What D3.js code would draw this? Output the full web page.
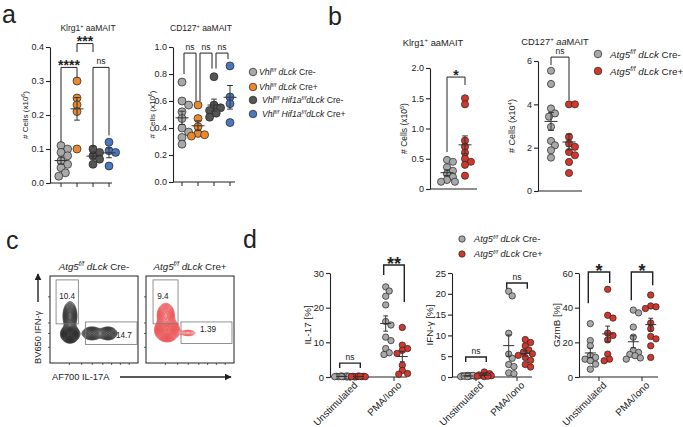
<!DOCTYPE html>
<html>
<head>
<meta charset="utf-8">
<script src="https://cdn.jsdelivr.net/npm/d3@7"></script>
<style>
  body { margin: 0; background: #fff; }
  text { font-family: "Liberation Sans", Arial, sans-serif; fill: #222; white-space: pre; }
</style>
</head>
<body>
<svg id="fig" width="683" height="427"></svg>
<script>
// ---------- data ----------
// panel a: four genotypes
const groupsA = ["Vhl Cre-", "Vhl Cre+", "Vhl Hif1a Cre-", "Vhl Hif1a Cre+"];
const colorsA = ["#a8a8a8", "#e8892f", "#555555", "#4a78bc"];
const klrg1A = [
  [0.11, 0.10, 0.09, 0.08, 0.065, 0.055, 0.045, 0.03, 0.02],
  [0.30, 0.25, 0.23, 0.21, 0.10],
  [0.10, 0.09, 0.08, 0.07, 0.055],
  [0.12, 0.095, 0.09, 0.05]
];
const cd127A = [
  [0.74, 0.60, 0.57, 0.52, 0.47, 0.40, 0.37, 0.33, 0.28],
  [0.57, 0.47, 0.41, 0.36, 0.34, 0.35],
  [0.78, 0.57, 0.55, 0.53, 0.51, 0.48],
  [0.86, 0.63, 0.58, 0.44]
];
// brackets: [group i, group j, top, leg i, leg j, label]
const klrg1ABrackets = [[0, 1, 0.34, 0.12, 0.31, "****"], [1, 2, 0.41, 0.385, 0.385, "***"], [2, 3, 0.34, 0.105, 0.14, "ns"]];
const cd127ABrackets = [[0, 1, 0.955, 0.80, 0.60, "ns"], [1, 2, 0.955, 0.60, 0.84, "ns"], [2, 3, 0.955, 0.84, 0.91, "ns"]];

// panel b: Atg5 Cre- / Cre+
const groupsB = ["Atg5 Cre-", "Atg5 Cre+"];
const colorsB = ["#a8a8a8", "#d0382e"];
const klrg1B = [
  [0.48, 0.45, 0.36, 0.30, 0.25, 0.20, 0.15, 0.12, 0.12],
  [1.5, 1.4, 0.8, 0.7, 0.6, 0.5, 0.45, 0.4, 0.22]
];
const cd127B = [
  [5.55, 4.94, 3.81, 3.58, 3.43, 2.96, 2.31, 2.11, 1.88, 1.54],
  [4.0, 4.0, 2.5, 2.19, 2.04, 1.8, 1.65, 1.34, 0.83]
];
const klrg1BBrackets = [[0, 1, 1.85, 0.61, 1.72, "*"]];
const cd127BBrackets = [[0, 1, 6.18, 5.81, 4.2, "ns"]];

// panel c: flow populations [x, y, sdx, sdy, weight] on a 0-100 channel scale
const flowTitles = ["Cre-", "Cre+"];
const flowColors = ["#111111", "#e5262b"];
const flowPops = [
  [[22.7, 33.3, 4.1, 4.0, 1], [22.7, 54, 3.6, 7.5, 0.35], [47.7, 34, 5.2, 3.5, 0.3], [65.9, 34, 4.8, 3.5, 0.3]],
  [[23.9, 37.9, 5.4, 5.2, 1], [22.5, 55, 4.3, 6, 0.4], [47.7, 34.5, 5.7, 2.3, 0.08]]
];
// gates [x0, y0, x1, y1] and their labels [text, x, y] in channel units
const flowGates = [
  [[6.9, 45, 32.2, 95.5], [40.2, 21.3, 98.9, 47.2]],
  [[8, 45, 36.4, 95.5], [39.8, 22.5, 97.7, 47.2]]
];
const flowGateLabels = [
  [["10.4", 19.5, 74], ["14.7", 84, 29.2]],
  [["9.4", 19.3, 74], ["1.39", 70.5, 36]]
];
const flowTicksY = [18, 34, 46, 76];
const flowTicksX = [22, 36, 48, 60, 70, 80, 90];

// panel d: conditions x genotype, values in %
const conditionsD = ["Unstimulated", "PMA/Iono"];
const il17Neg = [[0.3, 0.2, 0.1, 0.2, 0.1, 0.0, 0.1, 0.2, 0.3, 0.1, 0.2], [26, 24.8, 23.3, 20.8, 16, 15, 11.5, 10.5, 8.2, 7, 6.5]];
const il17Pos = [[0.2, 0.1, 0.1, 0.0, 0.2, 0.1, 0.3, 0.1, 0.2], [14.3, 9.2, 8.2, 7.7, 6.8, 3.4, 1.9, 1.0, 0.8]];
const ifngNeg = [[0.4, 0.3, 0.3, 0.2, 0.2, 0.1, 0.3, 0.2, 0.4, 0.1], [20.6, 19.5, 10.5, 5.5, 4.5, 3, 2.5, 1, 0.8]];
const ifngPos = [[1.2, 0.8, 0.5, 0.3, 0.2, 0.4, 0.1, 0.3, 0.2], [9, 8.3, 7.5, 6.5, 6, 5.6, 5.2, 4.7, 4, 3, 2.4]];
const gzmbNeg = [[30.8, 21, 18, 12.3, 11.3, 10.3, 9.4, 7.4, 4.5], [38.6, 37, 28.8, 23, 15.2, 14.2, 13, 12.3, 11, 10.3]];
const gzmbPos = [[50.6, 35.6, 34, 25.3, 24, 21.4, 13.2, 10.3, 9.4], [47.3, 41, 40.5, 39.5, 31.2, 27.9, 23.4, 22, 18, 11.3]];
// brackets per condition: [top, leg Cre-, leg Cre+, label]
const il17Brackets = [[4.0, 2.6, 2.6, "ns"], [32.3, 29.4, 21.6, "**"]];
const ifngBrackets = [[4.8, 3.6, 3.6, "ns"], [22.6, 21.2, 21.2, "ns"]];
const gzmbBrackets = [[60.6, 42.5, 54.2, "*"], [60.6, 44.3, 53, "*"]];

// ---------- helpers ----------
const svg = d3.select("#fig");
const FONT = '"Liberation Sans", Arial, sans-serif';
const INK = "#222";

// text with italic / superscript runs: parts = [[str, italic, sup]]
function rich(t, parts, fs) {
  let shift = 0;
  parts.forEach(([s, it, sup]) => {
    const target = sup ? -fs * 0.38 : 0;
    t.append("tspan")
      .attr("dy", target - shift)
      .attr("font-size", sup ? fs * 0.65 : fs)
      .attr("font-style", it ? "italic" : "normal")
      .text(s);
    shift = target;
  });
  return t;
}

// simple deterministic beeswarm offsets
function swarm(values, y, r, maxOff) {
  const order = values.map((v, i) => i).sort((a, b) => values[b] - values[a]);
  const placed = [];
  const off = new Array(values.length).fill(0);
  const minD = r * 1.6;
  order.forEach(i => {
    const py = y(values[i]);
    let best = 0, bestScore = -1;
    for (let k = 0; k <= 14; k++) {
      const c = (k % 2 ? 1 : -1) * Math.ceil(k / 2) * r * 0.55;
      if (Math.abs(c) > maxOff) continue;
      const d = placed.length ? d3.min(placed, p => Math.hypot(p[0] - c, p[1] - py)) : Infinity;
      if (d >= minD) { best = c; break; }
      if (d > bestScore) { bestScore = d; best = c; }
    }
    off[i] = best;
    placed.push([best, py]);
  });
  return off;
}

function yAxis(g, y, x0, ticks, fmt, fs) {
  const ax = g.append("g")
    .attr("transform", `translate(${x0},0)`)
    .call(d3.axisLeft(y).tickValues(ticks).tickFormat(fmt).tickSize(4).tickSizeOuter(0).tickPadding(2));
  ax.attr("font-family", FONT).attr("font-size", fs);
  ax.selectAll("path,line").attr("stroke", INK).attr("stroke-width", 1.1);
  ax.selectAll("text").attr("fill", INK);
}

function xLine(g, x0, x1, y0, ticks) {
  g.append("line").attr("x1", x0).attr("x2", x1).attr("y1", y0).attr("y2", y0)
    .attr("stroke", INK).attr("stroke-width", 1.1);
  g.selectAll(null).data(ticks).join("line")
    .attr("x1", d => d).attr("x2", d => d).attr("y1", y0).attr("y2", y0 + 4)
    .attr("stroke", INK).attr("stroke-width", 1);
}

function drawGroup(g, vals, cx, y, color, r, meanW) {
  const off = swarm(vals, y, r, r * 2.3);
  g.append("g").selectAll("circle").data(vals).join("circle")
    .attr("cx", (d, i) => cx + off[i]).attr("cy", d => y(d)).attr("r", r)
    .attr("fill", color).attr("stroke", INK).attr("stroke-width", 0.7);
  const m = d3.mean(vals), se = d3.deviation(vals) / Math.sqrt(vals.length);
  const e = g.append("g").attr("stroke", "#333").attr("stroke-width", 1);
  e.append("line").attr("x1", cx - meanW / 2).attr("x2", cx + meanW / 2).attr("y1", y(m)).attr("y2", y(m));
  e.append("line").attr("x1", cx).attr("x2", cx).attr("y1", y(m - se)).attr("y2", y(m + se));
  [m - se, m + se].forEach(v => e.append("line")
    .attr("x1", cx - meanW * 0.22).attr("x2", cx + meanW * 0.22).attr("y1", y(v)).attr("y2", y(v)));
}

function bracket(g, xa, xb, y, top, la, lb, label, starSize, lw) {
  g.append("path")
    .attr("d", `M${xa},${y(la)}V${y(top)}H${xb}V${y(lb)}`)
    .attr("fill", "none").attr("stroke", INK).attr("stroke-width", lw);
  const star = label !== "ns";
  g.append("text")
    .attr("x", (xa + xb) / 2)
    .attr("y", star ? y(top) - 3 + 0.42 * starSize : y(top) - 3)
    .attr("text-anchor", "middle")
    .attr("font-size", star ? starSize : 8.5)
    .attr("font-weight", star ? "bold" : "normal")
    .text(label);
}

function rotLabel(g, x, y, parts, fs) {
  const t = g.append("text").attr("transform", `translate(${x},${y}) rotate(-90)`)
    .attr("text-anchor", "middle").attr("font-size", fs);
  rich(t, parts, fs);
}

function panelLetter(s, x, y) {
  svg.append("text").attr("x", x).attr("y", y).attr("font-size", 25).text(s);
}

// ---------- panel a / b dot plots ----------
function dotPanel(o) {
  const g = svg.append("g");
  const y = d3.scaleLinear().domain(o.domain).range([o.yb, o.yt]);
  const x = d3.scalePoint().domain(d3.range(o.data.length)).range(o.xr);
  yAxis(g, y, o.x0, o.ticks, o.fmt, o.tickFs);
  xLine(g, o.x0, o.x1, o.yb, o.xticks ? x.domain().map(x) : []);
  o.data.forEach((vals, i) => drawGroup(g, vals, x(i), y, o.colors[i], o.r, o.meanW));
  o.brackets.forEach(([i, j, top, la, lb, lab]) =>
    bracket(g, x(i) + o.inset, x(j) - o.inset, y, top, la, lb, lab, o.star, 1));
  const tt = g.append("text").attr("x", o.titleX).attr("y", o.titleY).attr("text-anchor", "middle").attr("font-size", o.titleFs);
  rich(tt, o.title, o.titleFs);
  rotLabel(g, o.labelX, (o.yt + o.yb) / 2, o.ylabel, o.labelFs);
}

const fmt1 = d3.format(".1f");
dotPanel({
  data: klrg1A, colors: colorsA, domain: [0, 0.4], ticks: d3.range(0, 0.41, 0.1), fmt: fmt1, tickFs: 9,
  x0: 50, x1: 112, xr: [61, 109], yt: 47, yb: 183, r: 4, meanW: 13, xticks: true, inset: 0, star: 14,
  brackets: klrg1ABrackets, title: [["Klrg1"], ["+", 0, 1], [" aaMAIT"]], titleX: 88, titleY: 31, titleFs: 8.5,
  labelX: 28, labelFs: 8, ylabel: [["# Cells (x10"], ["6", 0, 1], [")"]]
});
dotPanel({
  data: cd127A, colors: colorsA, domain: [0, 1], ticks: d3.range(0, 1.01, 0.2), fmt: fmt1, tickFs: 9,
  x0: 173, x1: 235, xr: [182, 230], yt: 47, yb: 182, r: 4, meanW: 13, xticks: true, inset: 2, star: 14,
  brackets: cd127ABrackets, title: [["CD127"], ["+", 0, 1], [" aaMAIT"]], titleX: 201, titleY: 31, titleFs: 8.5,
  labelX: 155, labelFs: 8, ylabel: [["# Cells (x10"], ["6", 0, 1], [")"]]
});
dotPanel({
  data: klrg1B, colors: colorsB, domain: [0, 2], ticks: [0, 0.5, 1, 1.5, 2], fmt: d => d === 0 ? "0" : fmt1(d), tickFs: 9,
  x0: 430, x1: 477, xr: [447, 465], yt: 68, yb: 189, r: 3.6, meanW: 13, xticks: false, inset: 0, star: 14,
  brackets: klrg1BBrackets, title: [["Klrg1"], ["+", 0, 1], [" aaMAIT"]], titleX: 433, titleY: 46, titleFs: 9.3,
  labelX: 407, labelFs: 8.5, ylabel: [["# Cells (x10"], ["5", 0, 1], [")"]]
});
dotPanel({
  data: cd127B, colors: colorsB, domain: [0, 6], ticks: [0, 2, 4, 6], fmt: d3.format("d"), tickFs: 9,
  x0: 538, x1: 582, xr: [551, 569], yt: 61, yb: 191, r: 3.6, meanW: 13, xticks: false, inset: 0, star: 14,
  brackets: cd127BBrackets, title: [["CD127"], ["+", 0, 1], [" "], ["aa", 1], ["MAIT"]], titleX: 555, titleY: 45, titleFs: 9.3,
  labelX: 515, labelFs: 9, ylabel: [["# Cells (x10"], ["4", 0, 1], [")"]]
});

// legends a, b and d
function legend(items, colors, cx, tx, ys, r, fs) {
  const g = svg.append("g");
  items.forEach((parts, i) => {
    g.append("circle").attr("cx", cx).attr("cy", ys[i]).attr("r", r)
      .attr("fill", colors[i]).attr("stroke", INK).attr("stroke-width", 0.7);
    const t = g.append("text").attr("x", tx[i]).attr("y", ys[i] + fs * 0.36).attr("font-size", fs);
    rich(t, parts, fs);
  });
}
const vhl = [["Vhl", 1], ["f/f", 1, 1]];
const legendA = [
  [...vhl, [" dLck", 1], [" Cre-"]],
  [...vhl, [" dLck", 1], [" Cre+"]],
  [...vhl, [" Hif1a", 1], ["f/f", 1, 1], ["dLck", 1], [" Cre-"]],
  [...vhl, [" Hif1a", 1], ["f/f", 1, 1], ["dLck", 1], [" Cre+"]]
];
const atg = (s) => [["Atg5", 1], ["f/f", 1, 1], [" dLck", 1], [" " + s]];
legend(legendA, colorsA, 253, [259, 259, 262, 262], [72, 87, 100, 114], 3.8, 8.6);
legend([atg("Cre-"), atg("Cre+")], colorsB, 598, [610, 610], [54, 71], 3.8, 9.8);

// ---------- panel c: flow contour plots ----------
const boxes = [[50, 138], [146, 234]];
const boxY = [276, 363];
flowPops.forEach((pops, k) => {
  const [bx0, bx1] = boxes[k];
  const [by0, by1] = boxY;
  const xs = d3.scaleLinear().domain([0, 100]).range([bx0, bx1]);
  const ys = d3.scaleLinear().domain([0, 100]).range([by1, by0]);
  const g = svg.append("g");
  const nx = Math.round(bx1 - bx0), ny = Math.round(by1 - by0);
  const grid = new Float64Array(nx * ny);
  for (let j = 0; j < ny; j++) {
    for (let i = 0; i < nx; i++) {
      const u = xs.invert(bx0 + i + 0.5), v = ys.invert(by0 + j + 0.5);
      grid[j * nx + i] = d3.sum(pops, ([cx, cy, sx, sy, w]) =>
        w * Math.exp(-0.5 * ((u - cx) / sx) ** 2 - 0.5 * ((v - cy) / sy) ** 2));
    }
  }
  const top = d3.max(grid);
  const th = d3.range(18).map(i => top * 0.03 * Math.pow(0.97 / 0.03, i / 17));
  const cs = d3.contours().size([nx, ny]).thresholds(th)(grid);
  const path = d3.geoPath(d3.geoIdentity().translate([bx0, by0]));
  g.append("g").selectAll("path").data(cs).join("path")
    .attr("d", path)
    .attr("fill", flowColors[k]).attr("fill-opacity", k ? 0.05 : 0.075)
    .attr("stroke", flowColors[k]).attr("stroke-width", 0.5).attr("stroke-opacity", 0.85);

  // gates
  flowGates[k].forEach(([x0, y0, x1, y1]) => g.append("rect")
    .attr("x", xs(x0)).attr("y", ys(y1)).attr("width", xs(x1) - xs(x0)).attr("height", ys(y0) - ys(y1))
    .attr("fill", "none").attr("stroke", "#777").attr("stroke-width", 0.8));
  flowGateLabels[k].forEach(([s, x, y]) => g.append("text")
    .attr("x", xs(x)).attr("y", ys(y)).attr("text-anchor", "middle").attr("font-size", 8.2).text(s));

  // frame and ticks
  g.append("rect").attr("x", bx0).attr("y", by0).attr("width", bx1 - bx0).attr("height", by1 - by0)
    .attr("fill", "none").attr("stroke", INK).attr("stroke-width", 1);
  g.selectAll(null).data(flowTicksY).join("line")
    .attr("x1", bx0 - 2).attr("x2", bx0).attr("y1", d => ys(d)).attr("y2", d => ys(d))
    .attr("stroke", INK).attr("stroke-width", 0.7);
  g.selectAll(null).data(flowTicksX).join("line")
    .attr("x1", d => xs(d)).attr("x2", d => xs(d)).attr("y1", by1).attr("y2", by1 + 2)
    .attr("stroke", INK).attr("stroke-width", 0.7);

  const t = g.append("text").attr("x", (bx0 + bx1) / 2).attr("y", 270).attr("text-anchor", "middle").attr("font-size", 9.8);
  rich(t, atg(flowTitles[k]), 9.8);
});

// flow axis labels with arrows
svg.append("defs").append("marker").attr("id", "arr").attr("viewBox", "0 0 10 10")
  .attr("refX", 9).attr("refY", 5).attr("markerWidth", 5).attr("markerHeight", 5).attr("orient", "auto")
  .append("path").attr("d", "M0,0L10,5L0,10z").attr("fill", INK);
svg.append("line").attr("x1", 38).attr("x2", 38).attr("y1", 302).attr("y2", 274)
  .attr("stroke", INK).attr("stroke-width", 1.4).attr("marker-end", "url(#arr)");
svg.append("text").attr("transform", "translate(41,364) rotate(-90)").attr("font-size", 9.3).text("BV650 IFN-\u03b3");
svg.append("text").attr("x", 52).attr("y", 380).attr("font-size", 9.3).text("AF700 IL-17A");
svg.append("line").attr("x1", 120).attr("x2", 231).attr("y1", 377).attr("y2", 377)
  .attr("stroke", INK).attr("stroke-width", 1.4).attr("marker-end", "url(#arr)");

// ---------- panel d ----------
function condPanel(o) {
  const g = svg.append("g");
  const y = d3.scaleLinear().domain(o.domain).range([377, 273]);
  const x = d3.scalePoint().domain(conditionsD).range(o.xr);
  yAxis(g, y, o.x0, o.ticks, d3.format("d"), 9.5);
  xLine(g, o.x0, o.x1, 377, conditionsD.map(x));
  conditionsD.forEach((c, i) => {
    drawGroup(g, o.neg[i], x(c) - o.dx, y, colorsB[0], 3.2, 11);
    drawGroup(g, o.pos[i], x(c) + o.dx, y, colorsB[1], 3.2, 11);
    const [top, la, lb, lab] = o.brackets[i];
    bracket(g, x(c) - o.dx - 2, x(c) + o.dx + 2, y, top, la, lb, lab, 18, 1.4);
    g.append("text").attr("transform", `translate(${x(c) + 8},${386}) rotate(-45)`)
      .attr("text-anchor", "end").attr("font-size", 9.8).text(c);
  });
  rotLabel(g, o.labelX, 325, o.ylabel, 9.8);
}
condPanel({ neg: il17Neg, pos: il17Pos, brackets: il17Brackets, domain: [0, 30], ticks: [0, 10, 20, 30],
  x0: 330, x1: 407, xr: [350, 394], dx: 8.3, labelX: 311, ylabel: [["IL-17 [%]"]] });
condPanel({ neg: ifngNeg, pos: ifngPos, brackets: ifngBrackets, domain: [0, 25], ticks: [0, 5, 10, 15, 20, 25],
  x0: 452, x1: 532, xr: [476, 517], dx: 8.3, labelX: 433, ylabel: [["IFN-\u03b3 [%]"]] });
condPanel({ neg: gzmbNeg, pos: gzmbPos, brackets: gzmbBrackets, domain: [0, 60], ticks: [0, 20, 40, 60],
  x0: 579, x1: 658, xr: [599, 642], dx: 8.7, labelX: 560, ylabel: [["GzmB [%]"]] });

legend([atg("Cre-"), atg("Cre+")], colorsB, 462, [474, 474], [239, 254], 3.2, 9.2);

// panel letters
panelLetter("a", 2, 23);
panelLetter("b", 328, 25);
panelLetter("c", 6, 249);
panelLetter("d", 243, 248);
</script>
</body>
</html>
